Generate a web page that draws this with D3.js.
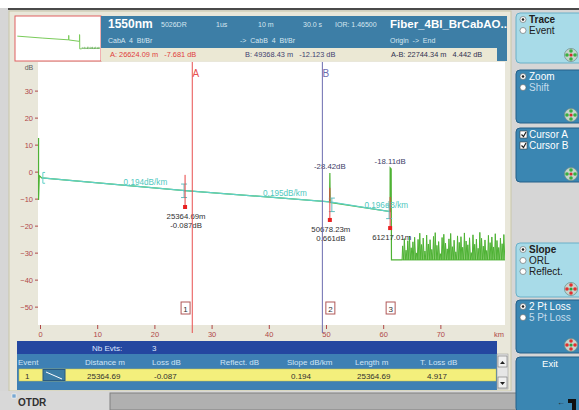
<!DOCTYPE html>
<html><head><meta charset="utf-8">
<script src="https://cdn.jsdelivr.net/npm/d3@7"></script>
<style>body{margin:0;background:#fff}svg{display:block;font-family:"Liberation Sans",Arial,sans-serif}</style>
</head><body><svg id="c" width="579" height="410"></svg>
<script>
// ---------------- data ----------------
const xTickValues = [0, 10, 20, 30, 40, 50, 60, 70];
const yTickValues = [30, 20, 10, 0, -10, -20, -30, -40, -50];
const traceKm = [-0.25, -0.25, -0.12, 0.3, 25.36, 50.62, 50.68, 50.74, 61.2, 61.22, 61.4, 61.45, 63.3];
const traceDb = [12.5, -10.5, -1.5, -2.3, -7.0, -11.2, -0.5, -11.4, -14.8, 1.4, 1.0, -32.7, -32.7];
const slopeKm = [0.3, 25.36, 50.68, 61.2];
const slopeDb = [-2.3, -7.0, -11.2, -14.8];
const slopeLabels = ["0.194dB/km", "0.195dB/km", "0.196dB/km"];
const noiseKm = [63.3,63.6,63.9,64.2,64.5,64.8,65.1,65.4,65.7,66.0,66.3,66.6,66.9,67.2,67.5,67.8,68.1,68.4,68.7,69.0,69.3,69.6,69.9,70.2,70.5,70.8,71.1,71.4,71.7,72.0,72.3,72.6,72.9,73.2,73.5,73.8,74.1,74.4,74.7,75.0,75.3,75.6,75.9,76.2,76.5,76.8,77.1,77.4,77.7,78.0,78.3,78.6,78.9,79.2,79.5,79.8,80.1,80.4,80.7,81.0];
const noiseDb = [-27.5,-24.8,-29.1,-25.6,-23.9,-28.2,-26.0,-24.3,-30.1,-25.1,-22.8,-27.0,-24.6,-29.4,-23.5,-26.8,-25.2,-28.8,-24.0,-22.6,-27.3,-25.9,-30.4,-24.4,-23.2,-26.5,-28.6,-24.9,-22.9,-27.8,-25.4,-29.7,-23.8,-26.2,-24.1,-28.0,-22.7,-25.7,-27.1,-24.5,-30.0,-23.4,-26.9,-25.0,-28.4,-22.5,-24.7,-27.6,-25.3,-29.2,-23.6,-26.3,-24.2,-27.9,-23.0,-25.5,-28.1,-24.6,-26.7,-23.3];
const noiseFloorDb = -32.7;
const eventKm = [25.36469, 50.67823, 61.21701];
const eventNumbers = ["1", "2", "3"];
const eventDistLabels = ["25364.69m", "50678.23m", "61217.01m"];
const eventLossLabels = ["-0.087dB", "0.661dB", ""];
const eventReflLabels = ["", "-28.42dB", "-18.11dB"];
const eventRedTopDb = [-1.2, -6.0, -9.4];
const eventRedBottomDb = [-13.1, -17.9, -20.9];
const cursorKm = [26.62409, 49.36843];
const cursorNames = ["A", "B"];
const headerRow1 = ["1550nm", "5026DR", "1us", "10 m", "30.0 s", "IOR: 1.46500", "Fiber_4BI_BrCabAO.."];
const headerRow2 = ["CabA  4  Bt/Br", "->  CabB  4  Bt/Br", "Origin  ->  End"];
const cursorInfo = ["A: 26624.09 m   -7.681 dB", "B: 49368.43 m   -12.123 dB", "A-B: 22744.34 m   4.442 dB"];
const tableHeaders = ["Event", "Distance m", "Loss dB", "Reflect. dB", "Slope dB/km", "Length m", "T. Loss dB"];
const tableRow = ["1", "25364.69", "-0.087", "", "0.194", "25364.69", "4.917"];
const nbEvents = "3";
const buttonLabels = [["Trace", "Event"], ["Zoom", "Shift"], ["Cursor A", "Cursor B"], ["Slope", "ORL", "Reflect."], ["2 Pt Loss", "5 Pt Loss"], ["Exit"]];

// ---------------- layout ----------------
const svg = d3.select("#c");
const W = 579, H = 410;
const P = {l: 39, r: 505, t: 62, b: 325};
const x = d3.scaleLinear().domain([0, 81.3]).range([40, 505]);
const y = d3.scaleLinear().domain([-56.8, 40.6]).range([325, 62]);

svg.append("rect").attr("width", W).attr("height", H).attr("fill", "#d6d6d6");
svg.append("rect").attr("width", W).attr("height", 8).attr("fill", "#ffffff");
svg.append("rect").attr("x", 8).attr("y", 8).attr("width", W - 8).attr("height", 2).attr("fill", "#4a4a4a");
// main panel
svg.append("rect").attr("x", 9).attr("y", 11).attr("width", 502).attr("height", 380).attr("fill", "#e9e7da").attr("stroke", "#c8c6a8");

// header
svg.append("rect").attr("x", 15).attr("y", 16).attr("width", 86).attr("height", 45).attr("fill", "#fff").attr("stroke", "#e06060");
svg.append("rect").attr("x", 101).attr("y", 16).attr("width", 406).attr("height", 45).attr("fill", "#3d7ea6");
svg.append("rect").attr("x", 101).attr("y", 48).attr("width", 396).attr("height", 13).attr("fill", "#ebe8d4");

// thumbnail
const tx = d3.scaleLinear().domain([0, 81.3]).range([17, 100]);
const ty = d3.scaleLinear().domain([-2, -33]).range([36, 49]);
const thumbLine = d3.line().x(d => tx(d[0])).y(d => ty(d[1]));
svg.append("path").attr("d", thumbLine(traceKm.map((k, i) => [Math.max(k, 0), traceDb[i]]).slice(3))).attr("fill", "none").attr("stroke", "#7acb5a").attr("stroke-width", 1);
svg.append("path").attr("d", d3.area().x(d => tx(d[0])).y0(ty(noiseFloorDb)).y1(d => ty(d[1] - 4))(noiseKm.map((k, i) => [k, noiseDb[i]]))).attr("fill", "#3f9a2a");

const hdr = [[108, 28, 12, "bold", "#ffffff"], [161, 27, 7, "normal", "#d6e6f0"], [216, 27, 7, "normal", "#d6e6f0"], [258, 27, 7, "normal", "#d6e6f0"], [303, 27, 7, "normal", "#d6e6f0"], [335, 27, 7, "normal", "#d6e6f0"], [390, 28, 11.5, "bold", "#ffffff"]];
headerRow1.forEach((t, i) => svg.append("text").attr("x", hdr[i][0]).attr("y", hdr[i][1]).attr("font-size", hdr[i][2]).attr("font-weight", hdr[i][3]).attr("fill", hdr[i][4]).text(t));
[[108, 43], [240, 43], [390, 43]].forEach((p, i) => svg.append("text").attr("x", p[0]).attr("y", p[1]).attr("font-size", 7).attr("fill", "#d6e6f0").attr("xml:space", "preserve").text(headerRow2[i]));
[[110, 57, "#e03c3c"], [245, 57, "#404070"], [391, 57, "#303050"]].forEach((p, i) => svg.append("text").attr("x", p[0]).attr("y", p[1]).attr("font-size", 7.4).attr("fill", p[2]).attr("xml:space", "preserve").text(cursorInfo[i]));

// plot area
svg.append("rect").attr("x", 38).attr("y", P.t).attr("width", P.r - 38).attr("height", P.b - P.t).attr("fill", "#ffffff");

// axes
const yAxis = d3.axisLeft(y).tickValues(yTickValues).tickSize(3).tickPadding(2).tickFormat(d3.format("d"));
const gy = svg.append("g").attr("transform", "translate(38,0)").call(yAxis);
gy.select(".domain").remove();
gy.selectAll("line").attr("stroke", "#b04848");
gy.selectAll("text").attr("fill", "#b04848").attr("font-size", 7.5).attr("font-family", "Liberation Sans, Arial");
svg.append("text").attr("x", 29).attr("y", 70).attr("font-size", 7).attr("fill", "#606060").attr("text-anchor", "middle").text("dB");

const xAxis = d3.axisBottom(x).tickValues(xTickValues).tickSize(4).tickPadding(3).tickFormat(d3.format("d"));
const gx = svg.append("g").attr("transform", `translate(0,${P.b})`).call(xAxis);
gx.select(".domain").remove();
gx.selectAll("line").attr("stroke", "#b04848");
gx.selectAll("text").attr("fill", "#b04848").attr("font-size", 7.5).attr("font-family", "Liberation Sans, Arial");
svg.append("text").attr("x", 499).attr("y", 337).attr("font-size", 7.5).attr("fill", "#b04848").attr("text-anchor", "middle").text("km");

const plot = svg.append("g");
svg.append("clipPath").attr("id", "clip").append("rect").attr("x", 36).attr("y", P.t).attr("width", P.r - 36).attr("height", P.b - P.t);
plot.attr("clip-path", "url(#clip)");

// noise
const noisePts = [[noiseKm[0], noiseFloorDb]];
noiseKm.forEach((k, i) => { noisePts.push([k + 0.1, noiseDb[i]]); noisePts.push([k + 0.27, noiseFloorDb]); });
plot.append("path").attr("d", d3.area().x(d => x(d[0])).y0(y(noiseFloorDb)).y1(d => y(d[1]))(noisePts)).attr("fill", "#b6e0a0");
plot.append("path").attr("d", d3.line().x(d => x(d[0])).y(d => y(d[1]))(noisePts)).attr("fill", "none").attr("stroke", "#4eb234").attr("stroke-width", 1);
plot.append("line").attr("x1", x(noiseKm[0])).attr("x2", P.r).attr("y1", y(noiseFloorDb)).attr("y2", y(noiseFloorDb)).attr("stroke", "#4eb234");

// trace
const line = d3.line().x(d => x(d[0])).y(d => y(d[1]));
plot.append("path").attr("d", line(traceKm.map((k, i) => [k, traceDb[i]]))).attr("fill", "none").attr("stroke", "#4eb234").attr("stroke-width", 1.2);

// slope overlay
plot.append("path").attr("d", line(slopeKm.map((k, i) => [k, slopeDb[i]]))).attr("fill", "none").attr("stroke", "#5fd0c8").attr("stroke-width", 1.3);
// start bracket
plot.append("path").attr("d", `M${x(0.9)},${y(slopeDb[0] + 2)}H${x(0.5)}V${y(slopeDb[0] - 2)}H${x(0.9)}`).attr("fill", "none").attr("stroke", "#5fd0c8").attr("stroke-width", 1);
// event brackets
eventKm.forEach((k, i) => {
  const lv = slopeDb[i + 1] + (i === 1 ? -1 : 0);
  const cx = x(k) + (i === 1 ? 2 : -1);
  const g = plot.append("g").attr("stroke", "#5fbfc0").attr("stroke-width", 1);
  g.append("line").attr("x1", cx).attr("x2", cx).attr("y1", y(lv + 2.4)).attr("y2", y(lv - 2.6));
  [lv + 2.4, lv - 2.6].forEach(v => g.append("line").attr("x1", cx - 3).attr("x2", cx + 3).attr("y1", y(v)).attr("y2", y(v)));
});
// slope labels (placed to the right of segment middle, as on the instrument)
const labelShift = [5.6, 4.8, 4.6];
slopeLabels.forEach((t, i) => {
  const m = (slopeKm[i] + slopeKm[i + 1]) / 2 + labelShift[i];
  const v = slopeDb[i] + (m - slopeKm[i]) / (slopeKm[i + 1] - slopeKm[i]) * (slopeDb[i + 1] - slopeDb[i]);
  plot.append("text").attr("x", x(m)).attr("y", y(v) - 2.5).attr("font-size", 8.2).attr("fill", "#50c8c0").attr("text-anchor", "middle").text(t);
});

// cursors
const cursorColors = ["#e85050", "#6c6cb0"];
cursorKm.forEach((k, i) => {
  svg.append("line").attr("x1", x(k)).attr("x2", x(k)).attr("y1", P.t).attr("y2", P.b + 8).attr("stroke", cursorColors[i]).attr("stroke-width", 1);
  svg.append("text").attr("x", x(k) + 3.5).attr("y", 77).attr("font-size", 10).attr("fill", cursorColors[i]).attr("text-anchor", "middle").text(cursorNames[i]);
});

// events
eventKm.forEach((k, i) => {
  const ex = x(k);
  plot.append("line").attr("x1", ex).attr("x2", ex).attr("y1", y(eventRedTopDb[i])).attr("y2", y(eventRedBottomDb[i])).attr("stroke", "#e84040").attr("stroke-width", 1);
  plot.append("rect").attr("x", ex - 2).attr("y", y(eventRedBottomDb[i]) - 2).attr("width", 4).attr("height", 4).attr("fill", "#e82020");
  const ly = y(eventRedBottomDb[i]) + 12;
  const anchor = i === 2 ? "start" : "middle";
  const lx = i === 2 ? ex - 18 : ex + 1;
  plot.append("text").attr("x", lx).attr("y", ly).attr("font-size", 7.8).attr("fill", "#303030").attr("text-anchor", anchor).text(eventDistLabels[i]);
  if (eventLossLabels[i]) plot.append("text").attr("x", lx).attr("y", ly + 9).attr("font-size", 7.8).attr("fill", "#303030").attr("text-anchor", anchor).text(eventLossLabels[i]);
  if (eventReflLabels[i]) plot.append("text").attr("x", ex).attr("y", y(traceDb[i === 1 ? 6 : 9]) - 4).attr("font-size", 7.8).attr("fill", "#404068").attr("text-anchor", "middle").text(eventReflLabels[i]);
  // number box
  svg.append("rect").attr("x", ex - 4).attr("y", 302).attr("width", 9).attr("height", 12).attr("fill", "#fff").attr("stroke", "#b05858").attr("stroke-width", 1);
  svg.append("text").attr("x", ex + 0.5).attr("y", 311.5).attr("font-size", 8).attr("fill", "#303030").attr("text-anchor", "middle").text(eventNumbers[i]);
});

// ---------------- table ----------------
svg.append("rect").attr("x", 17).attr("y", 341).attr("width", 480).attr("height", 13).attr("fill", "#2447a0");
svg.append("text").attr("x", 92).attr("y", 351).attr("font-size", 8).attr("fill", "#dfe6ff").text("Nb Evts:");
svg.append("text").attr("x", 152).attr("y", 351).attr("font-size", 8).attr("fill", "#dfe6ff").text(nbEvents);
svg.append("rect").attr("x", 17).attr("y", 354).attr("width", 480).attr("height", 36).attr("fill", "#3e80b4");
const colX = [18, 85, 152, 220, 287, 355, 420];
tableHeaders.forEach((t, i) => svg.append("text").attr("x", colX[i]).attr("y", 365).attr("font-size", 8).attr("fill", "#cfe4f6").text(t));
svg.append("rect").attr("x", 19).attr("y", 369).attr("width", 477).attr("height", 12).attr("fill", "#f3ef7c").attr("stroke", "#c8c050").attr("stroke-width", 0.5);
svg.append("rect").attr("x", 43).attr("y", 369.5).attr("width", 22).attr("height", 11).attr("fill", "#3d7ea6").attr("stroke", "#2a5a80");
svg.append("line").attr("x1", 46).attr("y1", 372).attr("x2", 62).attr("y2", 379).attr("stroke", "#fff").attr("stroke-width", 1);
const rowX = [25, 87, 154, 222, 291, 357, 427];
tableRow.forEach((t, i) => svg.append("text").attr("x", rowX[i]).attr("y", 378.5).attr("font-size", 8).attr("fill", "#303030").text(t));
// scrollbar
svg.append("rect").attr("x", 497).attr("y", 354).attr("width", 11).attr("height", 35).attr("fill", "#e6e6e6").attr("stroke", "#909090").attr("stroke-width", 0.5);
[[356, "M500,364L502.5,361L505,364Z"], [377, "M500,382L502.5,385L505,382Z"]].forEach(p => {
  svg.append("rect").attr("x", 498).attr("y", p[0]).attr("width", 9).attr("height", 11).attr("fill", "#f0f0f0").attr("stroke", "#707070").attr("stroke-width", 0.6);
  svg.append("path").attr("d", p[1]).attr("fill", "#202020");
});

// bottom bar
svg.append("rect").attr("x", 0).attr("y", 391).attr("width", W).attr("height", 19).attr("fill", "#d8d8d8");
svg.append("rect").attr("x", 110).attr("y", 393).attr("width", W - 110).attr("height", 17).attr("fill", "#b0b0b0").attr("stroke", "#808080").attr("stroke-width", 1);
svg.append("rect").attr("x", 12).attr("y", 394).attr("width", 4).attr("height", 4).attr("fill", "#7aa8d0").attr("stroke", "#fff").attr("stroke-width", 0.5);
svg.append("text").attr("x", 18).attr("y", 406).attr("font-size", 10).attr("font-weight", "bold").attr("fill", "#303030").text("OTDR");

// ---------------- right buttons ----------------
const btnY = [[13, 63], [70, 123], [128, 182], [243, 297], [300, 353], [357, 412]];
const btnLight = [true, false, false, true, false, false];
const btnKind = ["radio", "radio", "check", "radio", "radio", "none"];
const iconCol = ["#38b040", "#38b040", "#38b040", "#e03030", "#e03030", null];
buttonLabels.forEach((labs, b) => {
  const [y0, y1] = btnY[b];
  const light = btnLight[b];
  svg.append("rect").attr("x", 516).attr("y", y0).attr("width", 70).attr("height", y1 - y0).attr("rx", 4).attr("fill", light ? "#a8dbe8" : "#3a86b2").attr("stroke", light ? "#6ab0c8" : "#24608a");
  labs.forEach((t, j) => {
    const ty0 = b === 5 ? y0 + 10 : y0 + 10 + j * 11;
    if (b === 5) {
      svg.append("text").attr("x", 550).attr("y", ty0).attr("font-size", 9.5).attr("fill", "#ffffff").attr("text-anchor", "middle").text(t);
      return;
    }
    const sel = j === 0 || btnKind[b] === "check";
    if (btnKind[b] === "radio") {
      svg.append("circle").attr("cx", 523).attr("cy", ty0 - 3.5).attr("r", 3).attr("fill", "#ffffff").attr("stroke", "#606060").attr("stroke-width", 0.6);
      if (sel) svg.append("circle").attr("cx", 523).attr("cy", ty0 - 3.5).attr("r", 1.3).attr("fill", "#202020");
    } else {
      svg.append("rect").attr("x", 520).attr("y", ty0 - 7).attr("width", 7).attr("height", 7).attr("fill", "#ffffff").attr("stroke", "#404040").attr("stroke-width", 0.6);
      svg.append("path").attr("d", `M521.5,${ty0 - 3.5}L523.5,${ty0 - 1.5}L526,${ty0 - 6}`).attr("fill", "none").attr("stroke", "#202020").attr("stroke-width", 1.2);
    }
    const col = light ? "#202020" : (sel ? "#ffffff" : "#c4dcec");
    svg.append("text").attr("x", 529).attr("y", ty0).attr("font-size", 10).attr("font-weight", light && j === 0 ? "bold" : "normal").attr("fill", col).text(t);
  });
  if (iconCol[b]) {
    const cx = 571, cy = y1 - 8;
    svg.append("circle").attr("cx", cx).attr("cy", cy).attr("r", 6.5).attr("fill", "#c8d4cc").attr("stroke", "#70908a").attr("stroke-width", 0.8);
    [[0, -4], [0, 4], [-4, 0], [4, 0]].forEach(d => svg.append("circle").attr("cx", cx + d[0]).attr("cy", cy + d[1]).attr("r", 1.8).attr("fill", iconCol[b]));
    svg.append("circle").attr("cx", cx).attr("cy", cy).attr("r", 1.6).attr("fill", b < 3 ? "#d03030" : "#30a040");
  } else {
    svg.append("text").attr("x", 561).attr("y", 405).attr("font-size", 8).attr("fill", "#202020").attr("text-anchor", "middle").text("←");
    svg.append("path").attr("d", "M568,399H576V410H572V403H568Z").attr("fill", "#101010");
  }
});
</script></body></html>
